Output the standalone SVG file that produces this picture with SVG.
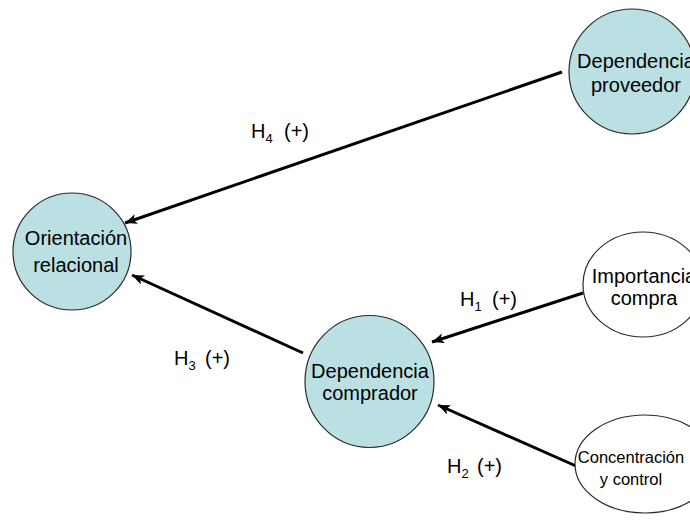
<svg xmlns="http://www.w3.org/2000/svg" width="690" height="521" viewBox="0 0 690 521">
<style>
.blue{fill:#bae0e3;stroke:#2a2a2a;stroke-width:1.2}
.white{fill:#ffffff;stroke:#2a2a2a;stroke-width:1.2}
.t{font-family:"Liberation Sans",Arial,sans-serif;font-size:20px;fill:#000;text-anchor:middle}
.ts{font-family:"Liberation Sans",Arial,sans-serif;font-size:16.5px;fill:#000;text-anchor:middle}
.h{font-family:"Liberation Sans",Arial,sans-serif;font-size:20px;fill:#000}
.sub{font-size:13px}
.e{stroke:#000;stroke-width:3;fill:none;marker-end:url(#ah)}
</style>
<defs>
<marker id="ah" markerUnits="userSpaceOnUse" markerWidth="14" markerHeight="12" refX="12" refY="5" orient="auto">
<path d="M0,0 L12,5 L0,10 L3,5 z" fill="#000"/>
</marker>
</defs>
<g id="connectors">
<line class="e" x1="562" y1="72" x2="125" y2="223"/>
<line class="e" x1="303" y1="353" x2="132" y2="275"/>
<line class="e" x1="583" y1="293" x2="432" y2="342"/>
<line class="e" x1="576" y1="466" x2="438" y2="405"/>
</g>
<g id="proveedor">
<ellipse class="blue" cx="632" cy="71.5" rx="63" ry="62.5"/>
<text class="t" x="636" y="68">Dependencia</text>
<text class="t" x="636" y="92">proveedor</text>
</g>
<g id="orientacion">
<ellipse class="blue" cx="72" cy="251.5" rx="59" ry="58.5"/>
<text class="t" x="76" y="245">Orientación</text>
<text class="t" x="76" y="272">relacional</text>
</g>
<g id="comprador">
<ellipse class="blue" cx="369.5" cy="381.5" rx="64.5" ry="66"/>
<text class="t" x="370" y="378">Dependencia</text>
<text class="t" x="370" y="400">comprador</text>
</g>
<g id="importancia">
<ellipse class="white" cx="643" cy="284.5" rx="60" ry="52.5"/>
<text class="t" x="644" y="283">Importancia</text>
<text class="t" x="644" y="305">compra</text>
</g>
<g id="concentracion">
<ellipse class="white" cx="645" cy="464" rx="70" ry="49"/>
<text class="ts" x="631" y="463">Concentración</text>
<text class="ts" x="631" y="485">y control</text>
</g>
<g id="labels">
<text class="h" x="251" y="138">H<tspan class="sub" dy="5">4</tspan><tspan x="284" dy="-5">(+)</tspan></text>
<text class="h" x="174" y="365">H<tspan class="sub" dy="5">3</tspan><tspan x="205" dy="-5">(+)</tspan></text>
<text class="h" x="460" y="306">H<tspan class="sub" dy="5">1</tspan><tspan x="492" dy="-5">(+)</tspan></text>
<text class="h" x="447" y="473">H<tspan class="sub" dy="5">2</tspan><tspan x="477" dy="-5">(+)</tspan></text>
</g>
</svg>
